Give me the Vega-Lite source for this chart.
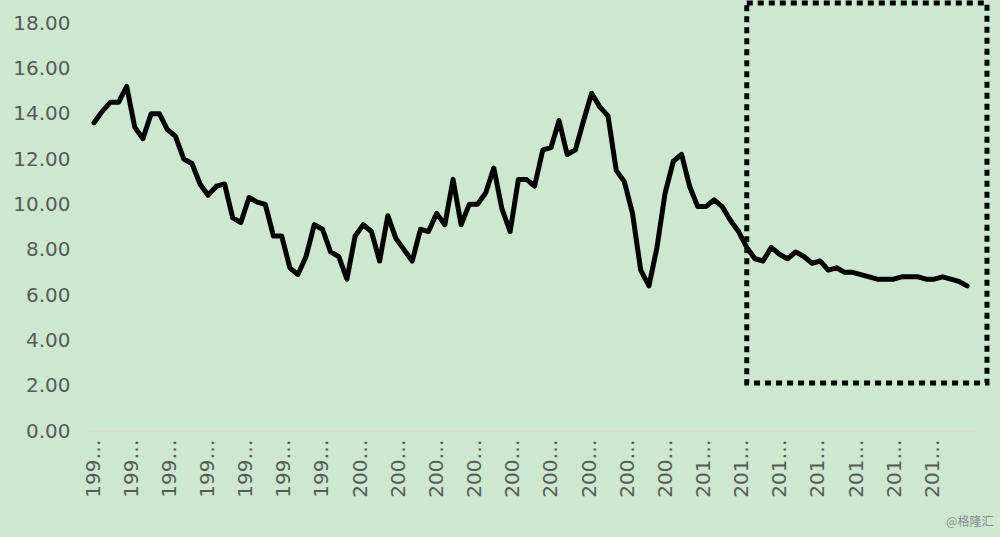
{
  "$schema": "https://vega.github.io/schema/vega-lite/v6.json",
  "width": 890,
  "height": 408,
  "autosize": {"type": "none"},
  "padding": {"left": 85, "top": 23, "right": 25, "bottom": 106},
  "background": "#cce8cf",
  "config": {"view": {"stroke": null}, "font": "DejaVu Sans"},
  "title": {"text": "@格隆汇", "orient": "bottom", "anchor": "end", "font": "Noto Sans CJK SC", "fontSize": 12, "fontWeight": "normal", "color": "#8c8c8c", "offset": 20, "dx": 4},
  "datasets": {
    "gdp": [
      {"quarter": "1992-01-01", "growth": 13.6}, {"quarter": "1992-04-01", "growth": 14.1}, {"quarter": "1992-07-01", "growth": 14.5}, {"quarter": "1992-10-01", "growth": 14.5},
      {"quarter": "1993-01-01", "growth": 15.2}, {"quarter": "1993-04-01", "growth": 13.4}, {"quarter": "1993-07-01", "growth": 12.9}, {"quarter": "1993-10-01", "growth": 14.0},
      {"quarter": "1994-01-01", "growth": 14.0}, {"quarter": "1994-04-01", "growth": 13.3}, {"quarter": "1994-07-01", "growth": 13.0}, {"quarter": "1994-10-01", "growth": 12.0},
      {"quarter": "1995-01-01", "growth": 11.8}, {"quarter": "1995-04-01", "growth": 10.9}, {"quarter": "1995-07-01", "growth": 10.4}, {"quarter": "1995-10-01", "growth": 10.8},
      {"quarter": "1996-01-01", "growth": 10.9}, {"quarter": "1996-04-01", "growth": 9.4}, {"quarter": "1996-07-01", "growth": 9.2}, {"quarter": "1996-10-01", "growth": 10.3},
      {"quarter": "1997-01-01", "growth": 10.1}, {"quarter": "1997-04-01", "growth": 10.0}, {"quarter": "1997-07-01", "growth": 8.6}, {"quarter": "1997-10-01", "growth": 8.6},
      {"quarter": "1998-01-01", "growth": 7.2}, {"quarter": "1998-04-01", "growth": 6.9}, {"quarter": "1998-07-01", "growth": 7.7}, {"quarter": "1998-10-01", "growth": 9.1},
      {"quarter": "1999-01-01", "growth": 8.9}, {"quarter": "1999-04-01", "growth": 7.9}, {"quarter": "1999-07-01", "growth": 7.7}, {"quarter": "1999-10-01", "growth": 6.7},
      {"quarter": "2000-01-01", "growth": 8.6}, {"quarter": "2000-04-01", "growth": 9.1}, {"quarter": "2000-07-01", "growth": 8.8}, {"quarter": "2000-10-01", "growth": 7.5},
      {"quarter": "2001-01-01", "growth": 9.5}, {"quarter": "2001-04-01", "growth": 8.5}, {"quarter": "2001-07-01", "growth": 8.0}, {"quarter": "2001-10-01", "growth": 7.5},
      {"quarter": "2002-01-01", "growth": 8.9}, {"quarter": "2002-04-01", "growth": 8.8}, {"quarter": "2002-07-01", "growth": 9.6}, {"quarter": "2002-10-01", "growth": 9.1},
      {"quarter": "2003-01-01", "growth": 11.1}, {"quarter": "2003-04-01", "growth": 9.1}, {"quarter": "2003-07-01", "growth": 10.0}, {"quarter": "2003-10-01", "growth": 10.0},
      {"quarter": "2004-01-01", "growth": 10.5}, {"quarter": "2004-04-01", "growth": 11.6}, {"quarter": "2004-07-01", "growth": 9.8}, {"quarter": "2004-10-01", "growth": 8.8},
      {"quarter": "2005-01-01", "growth": 11.1}, {"quarter": "2005-04-01", "growth": 11.1}, {"quarter": "2005-07-01", "growth": 10.8}, {"quarter": "2005-10-01", "growth": 12.4},
      {"quarter": "2006-01-01", "growth": 12.5}, {"quarter": "2006-04-01", "growth": 13.7}, {"quarter": "2006-07-01", "growth": 12.2}, {"quarter": "2006-10-01", "growth": 12.4},
      {"quarter": "2007-01-01", "growth": 13.7}, {"quarter": "2007-04-01", "growth": 14.9}, {"quarter": "2007-07-01", "growth": 14.3}, {"quarter": "2007-10-01", "growth": 13.9},
      {"quarter": "2008-01-01", "growth": 11.5}, {"quarter": "2008-04-01", "growth": 11.0}, {"quarter": "2008-07-01", "growth": 9.6}, {"quarter": "2008-10-01", "growth": 7.1},
      {"quarter": "2009-01-01", "growth": 6.4}, {"quarter": "2009-04-01", "growth": 8.1}, {"quarter": "2009-07-01", "growth": 10.5}, {"quarter": "2009-10-01", "growth": 11.9},
      {"quarter": "2010-01-01", "growth": 12.2}, {"quarter": "2010-04-01", "growth": 10.8}, {"quarter": "2010-07-01", "growth": 9.9}, {"quarter": "2010-10-01", "growth": 9.9},
      {"quarter": "2011-01-01", "growth": 10.2}, {"quarter": "2011-04-01", "growth": 9.9}, {"quarter": "2011-07-01", "growth": 9.3}, {"quarter": "2011-10-01", "growth": 8.8},
      {"quarter": "2012-01-01", "growth": 8.1}, {"quarter": "2012-04-01", "growth": 7.6}, {"quarter": "2012-07-01", "growth": 7.5}, {"quarter": "2012-10-01", "growth": 8.1},
      {"quarter": "2013-01-01", "growth": 7.8}, {"quarter": "2013-04-01", "growth": 7.6}, {"quarter": "2013-07-01", "growth": 7.9}, {"quarter": "2013-10-01", "growth": 7.7},
      {"quarter": "2014-01-01", "growth": 7.4}, {"quarter": "2014-04-01", "growth": 7.5}, {"quarter": "2014-07-01", "growth": 7.1}, {"quarter": "2014-10-01", "growth": 7.2},
      {"quarter": "2015-01-01", "growth": 7.0}, {"quarter": "2015-04-01", "growth": 7.0}, {"quarter": "2015-07-01", "growth": 6.9}, {"quarter": "2015-10-01", "growth": 6.8},
      {"quarter": "2016-01-01", "growth": 6.7}, {"quarter": "2016-04-01", "growth": 6.7}, {"quarter": "2016-07-01", "growth": 6.7}, {"quarter": "2016-10-01", "growth": 6.8},
      {"quarter": "2017-01-01", "growth": 6.8}, {"quarter": "2017-04-01", "growth": 6.8}, {"quarter": "2017-07-01", "growth": 6.7}, {"quarter": "2017-10-01", "growth": 6.7},
      {"quarter": "2018-01-01", "growth": 6.8}, {"quarter": "2018-04-01", "growth": 6.7}, {"quarter": "2018-07-01", "growth": 6.6}, {"quarter": "2018-10-01", "growth": 6.4}
    ],
    "box": [
      {"start": "2012-01-01", "end": "2019-05-12", "low": 2.12, "high": 18.88}
    ]
  },
  "layer": [
    {
      "data": {"name": "gdp"},
      "mark": {"type": "line", "color": "#000000", "strokeWidth": 5, "strokeJoin": "round", "strokeCap": "round"},
      "encoding": {
        "x": {
          "field": "quarter",
          "type": "temporal",
          "scale": {"type": "utc", "domain": [{"year": 1991, "month": 9, "date": 22, "utc": true}, {"year": 2018, "month": 12, "date": 29, "utc": true}]},
          "axis": {
            "title": null,
            "values": [
              {"year": 1991, "month": 12, "date": 21, "utc": true},
              {"year": 1993, "month": 2, "date": 20, "utc": true},
              {"year": 1994, "month": 4, "date": 23, "utc": true},
              {"year": 1995, "month": 6, "date": 24, "utc": true},
              {"year": 1996, "month": 8, "date": 24, "utc": true},
              {"year": 1997, "month": 10, "date": 25, "utc": true},
              {"year": 1998, "month": 12, "date": 26, "utc": true},
              {"year": 2000, "month": 2, "date": 26, "utc": true},
              {"year": 2001, "month": 4, "date": 28, "utc": true},
              {"year": 2002, "month": 6, "date": 29, "utc": true},
              {"year": 2003, "month": 8, "date": 30, "utc": true},
              {"year": 2004, "month": 10, "date": 30, "utc": true},
              {"year": 2005, "month": 12, "date": 31, "utc": true},
              {"year": 2007, "month": 3, "date": 3, "utc": true},
              {"year": 2008, "month": 5, "date": 3, "utc": true},
              {"year": 2009, "month": 7, "date": 4, "utc": true},
              {"year": 2010, "month": 9, "date": 4, "utc": true},
              {"year": 2011, "month": 11, "date": 5, "utc": true},
              {"year": 2013, "month": 1, "date": 5, "utc": true},
              {"year": 2014, "month": 3, "date": 8, "utc": true},
              {"year": 2015, "month": 5, "date": 9, "utc": true},
              {"year": 2016, "month": 7, "date": 9, "utc": true},
              {"year": 2017, "month": 9, "date": 9, "utc": true}
            ],
            "format": "%YQ%q",
            "labelAngle": 270,
            "labelFontSize": 20,
            "labelLimit": 60,
            "labelColor": "#595959",
            "labelPadding": 8,
            "labelOverlap": false,
            "labelFlush": false,
            "ticks": false,
            "grid": false,
            "domainColor": "#d9d9d9",
            "domainWidth": 1
          }
        },
        "y": {
          "field": "growth",
          "type": "quantitative",
          "scale": {"domain": [0, 18], "nice": false},
          "axis": {
            "title": null,
            "values": [0, 2, 4, 6, 8, 10, 12, 14, 16, 18],
            "format": ".2f",
            "grid": false,
            "domain": false,
            "ticks": false,
            "labelFontSize": 20,
            "labelColor": "#595959",
            "labelPadding": 15
          }
        }
      }
    },
    {
      "data": {"name": "box"},
      "mark": {"type": "rect", "filled": false, "stroke": "#000000", "strokeWidth": 5, "strokeDash": [6, 5], "strokeCap": "butt"},
      "encoding": {
        "x": {"field": "start", "type": "temporal"},
        "x2": {"field": "end"},
        "y": {"field": "low", "type": "quantitative"},
        "y2": {"field": "high"}
      }
    }
  ]
}
